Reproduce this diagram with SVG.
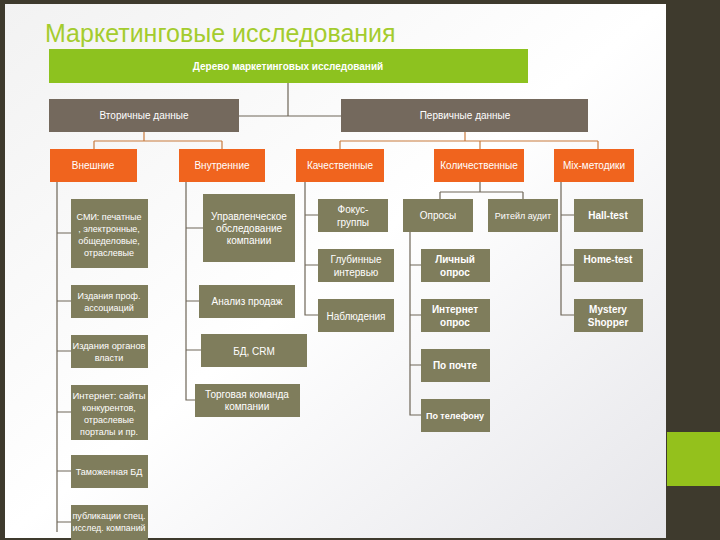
<svg xmlns="http://www.w3.org/2000/svg" width="720" height="540" viewBox="0 0 720 540">
<defs>
<linearGradient id="bg" x1="0" y1="0" x2="1" y2="1"><stop offset="0" stop-color="#f2f2f2"/><stop offset="0.5" stop-color="#ffffff"/><stop offset="1" stop-color="#e6e6ea"/></linearGradient>
</defs>
<style>
.t{font-family:"Liberation Sans",Arial,sans-serif;fill:#fff;text-anchor:middle;font-size:10px}
.s{font-size:9px}
.b{font-weight:bold}
.o{fill:#7f7d5c}
.r{fill:#f0641e}
.g{fill:#74695d}
.ln{stroke:#6e6658;stroke-width:1.2;fill:none}
.lo{stroke:#c87a3c;stroke-width:1.2;fill:none}
</style>
<rect width="720" height="540" fill="#3e3a2d"/>
<rect x="5" y="4" width="661" height="534" fill="url(#bg)"/>
<rect x="667" y="432" width="53" height="54" fill="#94c11c"/>
<text x="45" y="42" font-family="Liberation Sans,Arial,sans-serif" font-size="25" fill="#a4cc2e">Маркетинговые исследования</text>
<g id="connectors">
<path class="ln" d="M288 83V116M239 116H341"/>
<path class="lo" d="M144 132V141M94 141H222M94 141V149M222 141V149"/>
<path class="lo" d="M465 132V141M340 141H598M340 141V149M480 141V149M598 141V149"/>
<path class="ln" d="M57 182V532M57 233H71M57 301H71M57 351H71M57 412H71M57 471H71M57 522H71"/>
<path class="ln" d="M186 182V400H195M186 228H203M186 301H199M186 350H201"/>
<path class="ln" d="M305 182V315H318M305 215H318M305 265H318"/>
<path class="ln" d="M480 182V192M440 192H523M440 192V199M523 192V199"/>
<path class="ln" d="M410 232V415H421M410 265H421M410 315H421M410 365H421"/>
<path class="ln" d="M561 182V315H574M561 215H574M561 265H574"/>
</g>
<g id="root"><rect x="49" y="49" width="479" height="34" fill="#8dc21f"/><text class="t b" x="288" y="70" font-size="12">Дерево маркетинговых исследований</text></g>
<g id="sec"><rect class="g" x="49" y="99" width="190" height="33"/><text class="t" x="144" y="119">Вторичные данные</text></g>
<g id="prim"><rect class="g" x="341" y="99" width="247" height="33"/><text class="t" x="465" y="119">Первичные данные</text></g>
<g id="ext"><rect class="r" x="50" y="149" width="87" height="33"/><text class="t" x="93" y="169">Внешние</text></g>
<g id="int"><rect class="r" x="179" y="149" width="86" height="33"/><text class="t" x="222" y="169">Внутренние</text></g>
<g id="qual"><rect class="r" x="296" y="149" width="88" height="33"/><text class="t" x="340" y="169">Качественные</text></g>
<g id="quant"><rect class="r" x="434" y="149" width="90" height="33"/><text class="t" x="479" y="169">Количественные</text></g>
<g id="mix"><rect class="r" x="554" y="149" width="80" height="33"/><text class="t" x="594" y="169">Mix-методики</text></g>
<g id="e1"><rect class="o" x="71" y="199" width="77" height="69"/><text class="t s" x="109" y="220">СМИ: печатные</text><text class="t s" x="109" y="232">, электронные,</text><text class="t s" x="109" y="244">общеделовые,</text><text class="t s" x="109" y="256">отраслевые</text></g>
<g id="e2"><rect class="o" x="71" y="285" width="77" height="33"/><text class="t s" x="109" y="299">Издания проф.</text><text class="t s" x="109" y="311">ассоциаций</text></g>
<g id="e3"><rect class="o" x="71" y="335" width="77" height="33"/><text class="t s" x="109" y="349" textLength="73" lengthAdjust="spacingAndGlyphs">Издания органов</text><text class="t s" x="109" y="361">власти</text></g>
<g id="e4"><rect class="o" x="71" y="385" width="77" height="55"/><text class="t s" x="109" y="399" textLength="73" lengthAdjust="spacingAndGlyphs">Интернет: сайты</text><text class="t s" x="109" y="411">конкурентов,</text><text class="t s" x="109" y="423">отраслевые</text><text class="t s" x="109" y="435">порталы и пр.</text></g>
<g id="e5"><rect class="o" x="71" y="455" width="77" height="33"/><text class="t s" x="109" y="475">Таможенная БД</text></g>
<g id="e6"><rect class="o" x="71" y="505" width="77" height="35"/><text class="t s" x="109" y="519" textLength="73" lengthAdjust="spacingAndGlyphs">публикации спец.</text><text class="t s" x="109" y="531" textLength="73" lengthAdjust="spacingAndGlyphs">исслед. компаний</text></g>
<g id="i1"><rect class="o" x="203" y="194" width="92" height="68"/><text class="t" x="249" y="220">Управленческое</text><text class="t" x="249" y="232">обследование</text><text class="t" x="249" y="244">компании</text></g>
<g id="i2"><rect class="o" x="199" y="285" width="96" height="33"/><text class="t" x="247" y="305">Анализ продаж</text></g>
<g id="i3"><rect class="o" x="201" y="334" width="106" height="33"/><text class="t" x="254" y="355" font-size="12">БД, CRM</text></g>
<g id="i4"><rect class="o" x="195" y="384" width="105" height="33"/><text class="t" x="247" y="398">Торговая команда</text><text class="t" x="247" y="410">компании</text></g>
<g id="q1"><rect class="o" x="318" y="199" width="70" height="33"/><text class="t" x="353" y="213">Фокус-</text><text class="t" x="353" y="226">группы</text></g>
<g id="q2"><rect class="o" x="318" y="249" width="76" height="33"/><text class="t" x="356" y="263">Глубинные</text><text class="t" x="356" y="276">интервью</text></g>
<g id="q3"><rect class="o" x="318" y="299" width="76" height="33"/><text class="t" x="356" y="320">Наблюдения</text></g>
<g id="n1"><rect class="o" x="403" y="199" width="70" height="33"/><text class="t" x="438" y="219">Опросы</text></g>
<g id="n2"><rect class="o" x="488" y="199" width="70" height="33"/><text class="t s" x="523" y="219">Ритейл аудит</text></g>
<g id="p1"><rect class="o" x="421" y="249" width="69" height="33"/><text class="t b" x="455" y="263">Личный</text><text class="t b" x="455" y="276">опрос</text></g>
<g id="p2"><rect class="o" x="421" y="299" width="69" height="33"/><text class="t b" x="455" y="313">Интернет</text><text class="t b" x="455" y="326">опрос</text></g>
<g id="p3"><rect class="o" x="421" y="349" width="69" height="33"/><text class="t b" x="455" y="369">По почте</text></g>
<g id="p4"><rect class="o" x="421" y="399" width="69" height="33"/><text class="t b s" x="455" y="419">По телефону</text></g>
<g id="m1"><rect class="o" x="574" y="199" width="69" height="33"/><text class="t b" x="608" y="219">Hall-test</text></g>
<g id="m2"><rect class="o" x="574" y="249" width="69" height="33"/><text class="t b" x="608" y="263">Home-test</text></g>
<g id="m3"><rect class="o" x="574" y="299" width="69" height="33"/><text class="t b" x="608" y="313">Mystery</text><text class="t b" x="608" y="326">Shopper</text></g>
</svg>
